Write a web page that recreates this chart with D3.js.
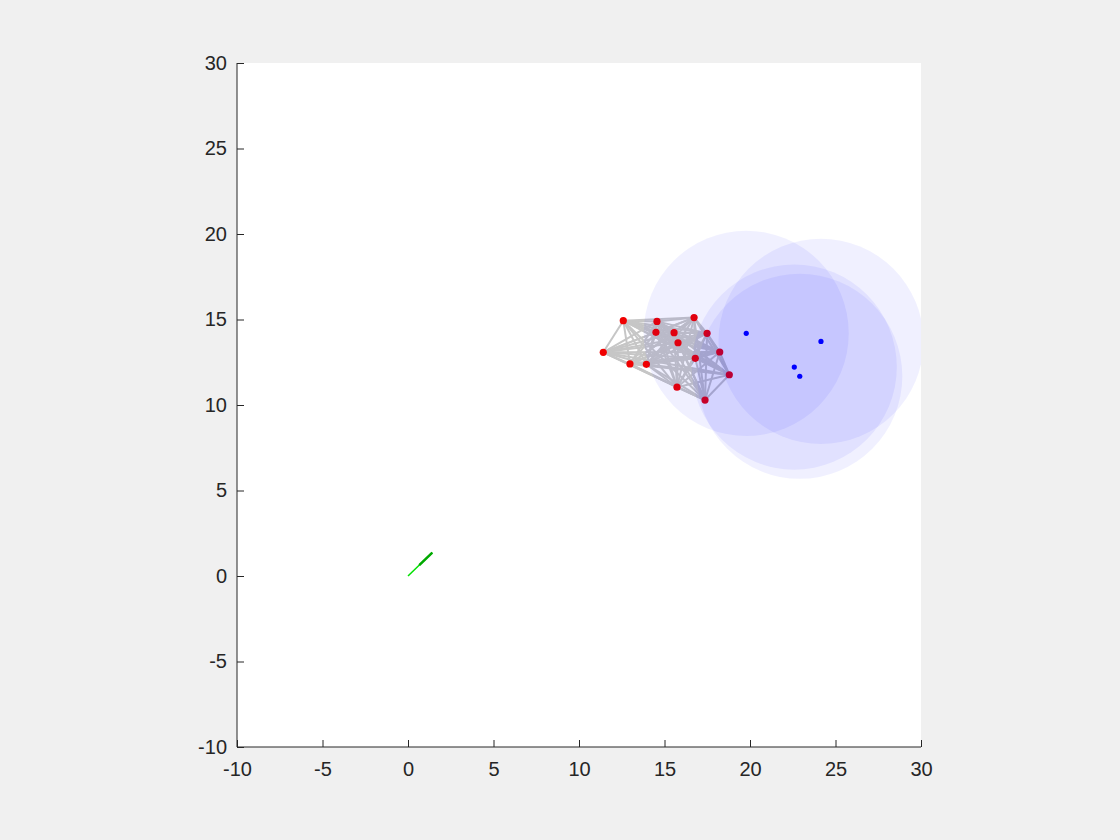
<!DOCTYPE html>
<html>
<head>
<meta charset="utf-8">
<script src="https://cdn.jsdelivr.net/npm/d3@7"></script>
<style>
  body { margin: 0; background: #f0f0f0; }
  svg { display: block; }
</style>
</head>
<body>
<script>
// red nodes (x, y)
const redX = [12.59, 14.56, 16.73, 14.50, 15.56, 17.49, 15.79, 11.42, 18.23, 16.80, 12.98, 13.94, 18.79, 15.73, 17.37];
const redY = [14.93, 14.89, 15.11, 14.25, 14.23, 14.19, 13.64, 13.08, 13.10, 12.73, 12.40, 12.38, 11.77, 11.04, 10.29];

// blue nodes, each with a range circle
const blueX = [19.78, 24.15, 22.59, 22.91];
const blueY = [14.19, 13.72, 12.22, 11.68];
const rangeR = 6;

// green path
const pathX = [0, 1.42];
const pathY = [0, 1.37];
const darkX = [0.66, 1.42];
const darkY = [0.64, 1.37];

const ticks = [-10, -5, 0, 5, 10, 15, 20, 25, 30];

const width = 1120, height = 840;
const margin = { top: 63, right: 199, bottom: 93, left: 237 };

const svg = d3.select("body").append("svg")
  .attr("width", width)
  .attr("height", height);

const x = d3.scaleLinear().domain([-10, 30]).range([margin.left, width - margin.right]);
const y = d3.scaleLinear().domain([-10, 30]).range([height - margin.bottom, margin.top]);

svg.append("rect")
  .attr("x", x(-10)).attr("y", y(30))
  .attr("width", x(30) - x(-10)).attr("height", y(-10) - y(30))
  .attr("fill", "white");

svg.append("clipPath").attr("id", "clip")
  .append("rect")
  .attr("x", x(-10)).attr("y", y(30))
  .attr("width", x(30) - x(-10)).attr("height", y(-10) - y(30));

const plot = svg.append("g").attr("clip-path", "url(#clip)");

// edges between all red nodes
const edges = [];
for (let i = 0; i < redX.length; i++) {
  for (let j = i + 1; j < redX.length; j++) edges.push([i, j]);
}
plot.selectAll(".edge")
  .data(edges)
  .enter().append("line")
  .attr("x1", d => x(redX[d[0]])).attr("y1", d => y(redY[d[0]]))
  .attr("x2", d => x(redX[d[1]])).attr("y2", d => y(redY[d[1]]))
  .attr("stroke", "#c6c6c6")
  .attr("stroke-width", 2);

plot.selectAll(".red")
  .data(redX)
  .enter().append("circle")
  .attr("cx", d => x(d))
  .attr("cy", (d, i) => y(redY[i]))
  .attr("r", 3.6)
  .attr("fill", "#f00000");

plot.selectAll(".blue")
  .data(blueX)
  .enter().append("circle")
  .attr("cx", d => x(d))
  .attr("cy", (d, i) => y(blueY[i]))
  .attr("r", 2.6)
  .attr("fill", "#0000ff");

// green trajectory
plot.append("line")
  .attr("x1", x(pathX[0])).attr("y1", y(pathY[0]))
  .attr("x2", x(pathX[1])).attr("y2", y(pathY[1]))
  .attr("stroke", "#00e000")
  .attr("stroke-width", 1.5);
plot.append("line")
  .attr("x1", x(darkX[0])).attr("y1", y(darkY[0]))
  .attr("x2", x(darkX[1])).attr("y2", y(darkY[1]))
  .attr("stroke", "#00a800")
  .attr("stroke-width", 2.5);

// range circles on top
plot.selectAll(".range")
  .data(blueX)
  .enter().append("circle")
  .attr("cx", d => x(d))
  .attr("cy", (d, i) => y(blueY[i]))
  .attr("r", x(rangeR) - x(0))
  .attr("fill", "#0000ff")
  .attr("fill-opacity", 0.06);

// axes
const fmt = d => String(d);
const xAxis = d3.axisBottom(x).tickValues(ticks).tickFormat(fmt).tickSize(-7).tickPadding(15);
const yAxis = d3.axisLeft(y).tickValues(ticks).tickFormat(fmt).tickSize(-7).tickPadding(10);

const gx = svg.append("g")
  .attr("transform", `translate(0,${y(-10)})`)
  .call(xAxis);
const gy = svg.append("g")
  .attr("transform", `translate(${x(-10)},0)`)
  .call(yAxis);

[gx, gy].forEach(g => {
  g.selectAll("line").attr("stroke", "#262626");
  g.selectAll("text")
    .attr("fill", "#262626")
    .style("font-family", "'Liberation Sans', Arial, sans-serif")
    .style("font-size", "20px");
});
gx.select(".domain").attr("stroke", "#262626").attr("d", `M${x(-10)},0H${x(30)}`);
gy.select(".domain").attr("stroke", "#262626").attr("d", `M0,${y(-10)}V${y(30)}`);
</script>
</body>
</html>
